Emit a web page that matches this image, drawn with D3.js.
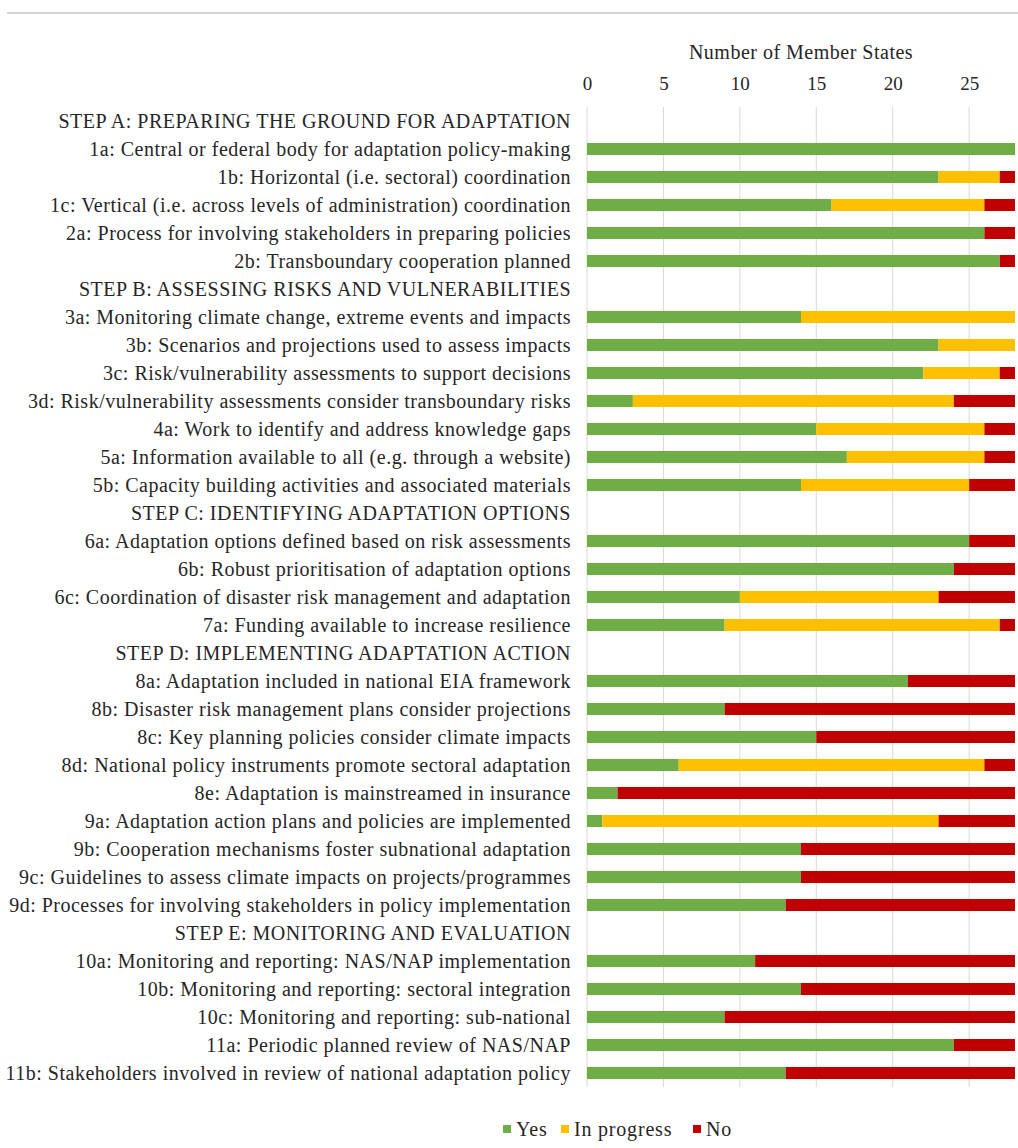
<!DOCTYPE html>
<html>
<head>
<meta charset="utf-8">
<script src="https://cdn.jsdelivr.net/npm/d3@7"></script>
<style>
  body { margin: 0; background: #fff; }
  svg text { font-family: "Liberation Serif", "Times New Roman", serif; }
</style>
</head>
<body>
<div id="chart"></div>
<script>
// rows, top to bottom; section headers have no bars
var rows = [
  "STEP A: PREPARING THE GROUND FOR ADAPTATION",
  "1a: Central or federal body for adaptation policy-making",
  "1b: Horizontal (i.e. sectoral) coordination",
  "1c: Vertical (i.e. across levels of administration) coordination",
  "2a: Process for involving stakeholders in preparing policies",
  "2b: Transboundary cooperation planned",
  "STEP B: ASSESSING RISKS AND VULNERABILITIES",
  "3a: Monitoring climate change, extreme events and impacts",
  "3b: Scenarios and projections used to assess impacts",
  "3c: Risk/vulnerability assessments to support decisions",
  "3d: Risk/vulnerability assessments consider transboundary risks",
  "4a: Work to identify and address knowledge gaps",
  "5a: Information available to all (e.g. through a website)",
  "5b: Capacity building activities and associated materials",
  "STEP C: IDENTIFYING ADAPTATION OPTIONS",
  "6a: Adaptation options defined based on risk assessments",
  "6b: Robust prioritisation of adaptation options",
  "6c: Coordination of disaster risk management and adaptation",
  "7a: Funding available to increase resilience",
  "STEP D: IMPLEMENTING ADAPTATION ACTION",
  "8a: Adaptation included in national EIA framework",
  "8b: Disaster risk management plans consider projections",
  "8c: Key planning policies consider climate impacts",
  "8d: National policy instruments promote sectoral adaptation",
  "8e: Adaptation is mainstreamed in insurance",
  "9a: Adaptation action plans and policies are implemented",
  "9b: Cooperation mechanisms foster subnational adaptation",
  "9c: Guidelines to assess climate impacts on projects/programmes",
  "9d: Processes for involving stakeholders in policy implementation",
  "STEP E: MONITORING AND EVALUATION",
  "10a: Monitoring and reporting: NAS/NAP implementation",
  "10b: Monitoring and reporting: sectoral integration",
  "10c: Monitoring and reporting: sub-national",
  "11a: Periodic planned review of NAS/NAP",
  "11b: Stakeholders involved in review of national adaptation policy"
];

// null = section header
var yes =        [null, 28, 23, 16, 26, 27, null, 14, 23, 22, 3, 15, 17, 14, null, 25, 24, 10, 9, null, 21, 9, 15, 6, 2, 1, 14, 14, 13, null, 11, 14, 9, 24, 13];
var inProgress = [null, 0, 4, 10, 0, 0, null, 14, 5, 5, 21, 11, 9, 11, null, 0, 0, 13, 18, null, 0, 0, 0, 20, 0, 22, 0, 0, 0, null, 0, 0, 0, 0, 0];
var no =         [null, 0, 1, 2, 2, 1, null, 0, 0, 1, 4, 2, 2, 3, null, 3, 4, 5, 1, null, 7, 19, 13, 2, 26, 5, 14, 14, 15, null, 17, 14, 19, 4, 15];

var seriesNames = ["Yes", "In progress", "No"];
var seriesColors = ["#70AD47", "#FFC000", "#C00000"];
var xTicks = [0, 5, 10, 15, 20, 25];

var width = 1018, height = 1148;
var serif = "Liberation Serif, Times New Roman, serif";
var textColor = "#262626";

var svg = d3.select("#chart")
  .append("svg")
  .attr("width", width)
  .attr("height", height);

// thin rule at the very top
svg.append("line")
  .attr("x1", 7).attr("x2", width)
  .attr("y1", 13).attr("y2", 13)
  .attr("stroke", "#d4d4d4")
  .attr("stroke-width", 2);

var x = d3.scaleLinear().domain([0, 28]).range([587, 1015]);
var y = d3.scaleBand()
  .domain(rows)
  .range([107, 1087])
  .paddingInner(0.57)
  .paddingOuter(0.285);

// gridlines
svg.append("g")
  .selectAll("line")
  .data(xTicks)
  .join("line")
  .attr("x1", d => x(d)).attr("x2", d => x(d))
  .attr("y1", 107).attr("y2", 1087)
  .attr("stroke", "#d9d9d9")
  .attr("stroke-width", 1);

// top axis
var axis = svg.append("g")
  .attr("transform", "translate(0,96)")
  .call(d3.axisTop(x).tickValues(xTicks).tickSize(0).tickPadding(6));
axis.select(".domain").remove();
axis.attr("font-family", serif).attr("font-size", 19);
axis.selectAll("text").attr("fill", textColor);

svg.append("text")
  .attr("x", (x(0) + x(28)) / 2)
  .attr("y", 59)
  .attr("text-anchor", "middle")
  .attr("font-family", serif)
  .attr("font-size", 20)
  .attr("letter-spacing", 0.5)
  .attr("fill", textColor)
  .text("Number of Member States");

// stack data
var data = rows.map((r, i) => ({ row: r, Yes: yes[i], "In progress": inProgress[i], No: no[i] }))
  .filter(d => d.Yes !== null);
var stack = d3.stack().keys(seriesNames)(data);

svg.append("g")
  .selectAll("g")
  .data(stack)
  .join("g")
  .attr("fill", (d, i) => seriesColors[i])
  .selectAll("rect")
  .data(d => d.filter(s => s[1] > s[0]))
  .join("rect")
  .attr("x", d => x(d[0]))
  .attr("width", d => x(d[1]) - x(d[0]))
  .attr("y", d => y(d.data.row))
  .attr("height", y.bandwidth());

// row labels
svg.append("g")
  .selectAll("text")
  .data(rows)
  .join("text")
  .attr("x", 571)
  .attr("y", d => y(d) + y.bandwidth() / 2)
  .attr("dy", "0.35em")
  .attr("text-anchor", "end")
  .attr("font-family", serif)
  .attr("font-size", 20)
  .attr("letter-spacing", 0.5)
  .attr("fill", textColor)
  .text(d => d);

// legend
var legendX = [503, 561, 693];
var legend = svg.append("g")
  .selectAll("g")
  .data(seriesNames)
  .join("g")
  .attr("transform", (d, i) => "translate(" + legendX[i] + ",1129)");
legend.append("rect")
  .attr("x", 0).attr("y", -4)
  .attr("width", 8).attr("height", 8)
  .attr("fill", (d, i) => seriesColors[i]);
legend.append("text")
  .attr("x", 13)
  .attr("dy", "0.35em")
  .attr("font-family", serif)
  .attr("font-size", 20)
  .attr("letter-spacing", 0.8)
  .attr("fill", textColor)
  .text(d => d);
</script>
</body>
</html>
